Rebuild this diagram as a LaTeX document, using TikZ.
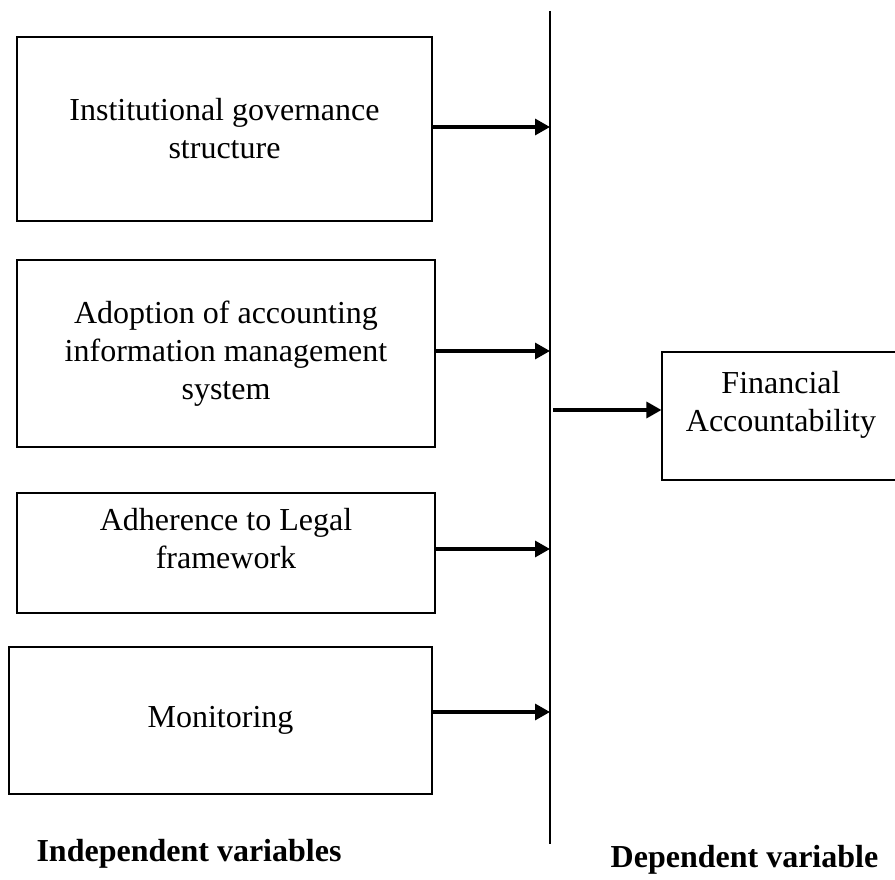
\documentclass[tikz,border=0pt]{standalone}
\usepackage{fontspec}
\setmainfont{Liberation Serif}
\usetikzlibrary{arrows.meta}
\tikzset{
  varbox/.style={draw, line width=1.1pt, inner sep=0pt, align=center,
    font=\fontsize{32}{38}\selectfont},
  arr/.style={line width=3.2pt, -{Triangle[length=15pt,width=16pt]}},
  heading/.style={font=\fontsize{32}{38}\selectfont\bfseries, anchor=base}
}

\begin{document}
\begin{tikzpicture}[x=1pt, y=-1pt]
  \useasboundingbox (0,0) rectangle (895,880);
  % Dividing line
  \coordinate (sptop) at (550,11);
  \coordinate (spbot) at (550,844);
  \draw[line width=1.4pt] (sptop) -- (spbot);
  % Independent variable boxes
  \node[varbox, minimum width=415pt, minimum height=184pt] (inst) at (224.5,129)
    {Institutional governance\\structure};
  \node[varbox, minimum width=418pt, minimum height=187pt] (adopt) at (226,353.5)
    {Adoption of accounting\\information management\\system};
  \node[varbox, minimum width=418pt, minimum height=120pt, text depth=30pt] (legal) at (226,553)
    {Adherence to Legal\\framework};
  \node[varbox, minimum width=423pt, minimum height=147pt] (monit) at (220.5,720.5)
    {Monitoring};
  % Dependent variable box
  \node[varbox, minimum width=238pt, minimum height=128pt, text depth=30pt] (finacc) at (781,416)
    {Financial\\Accountability};
  % Arrows
  \coordinate (a1) at ([yshift=2pt]inst.east);
  \coordinate (a2) at ([yshift=2.5pt]adopt.east);
  \coordinate (a3) at ([yshift=4pt]legal.east);
  \coordinate (a4) at ([yshift=8.5pt]monit.east);
  \coordinate (a5) at ([yshift=6pt]finacc.west);
  \coordinate (a5s) at (a5 -| sptop);
  \draw[arr] (a1) -- (a1 -| sptop);
  \draw[arr] (a2) -- (a2 -| sptop);
  \draw[arr] (a3) -- (a3 -| sptop);
  \draw[arr] (a4) -- (a4 -| sptop);
  \draw[arr] ([xshift=3pt]a5s) -- (a5);
  % Labels
  \node[heading] (indlab) at (189,861) {Independent variables};
  \node[heading] (deplab) at (744.5,867) {Dependent variable};
\end{tikzpicture}
\end{document}
